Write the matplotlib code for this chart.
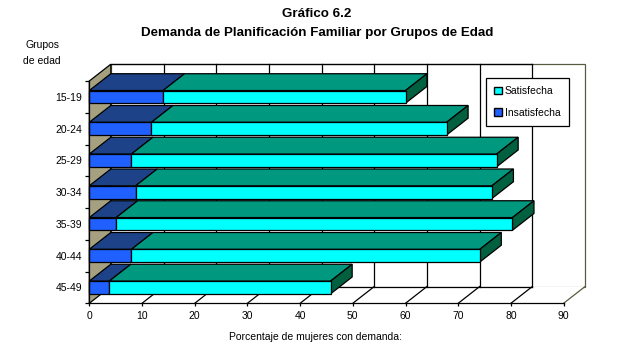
import numpy as np
import matplotlib.pyplot as plt
from matplotlib import font_manager
from matplotlib.patches import Polygon, Patch

# -----------------------------------------------------------------------------
# Data (percent of women with demand)
# -----------------------------------------------------------------------------
grupos = ['15-19', '20-24', '25-29', '30-34', '35-39', '40-44', '45-49']
insatisfecha = np.array([14.0, 11.8, 8.0, 8.8, 5.1, 8.0, 3.8])
satisfecha = np.array([46.0, 56.0, 69.3, 67.6, 75.2, 66.1, 42.0])
x_ticks = [0, 10, 20, 30, 40, 50, 60, 70, 80, 90]

# colours (front face, top face, end face)
sat_colors = ('#00ffff', '#009980', '#006040')
ins_colors = ('#2060ff', '#1d4288', '#10306a')
wall_gray = '#a4a080'
wall_edge = '#5a5a40'

plt.rcParams['font.family'] = ['Liberation Sans', 'DejaVu Sans']

# narrow bold face for the title, if one is installed
installed = {f.name for f in font_manager.fontManager.ttflist}
if 'Liberation Sans Narrow' in installed:
    title_kw = dict(family='Liberation Sans Narrow', fontsize=11)
elif 'DejaVu Sans Condensed' in installed:
    title_kw = dict(family='DejaVu Sans Condensed', fontsize=9.5)
else:
    title_kw = dict(family='Liberation Sans', fontsize=9.6)

W, H = 634, 353
fig = plt.figure(figsize=(W / 100, H / 100), dpi=100)
fig.patch.set_facecolor('white')

# front plane of the 3-D box in pixels
x0, x1, yb, yt = 89.3, 563.6, 303.3, 81.0
ax = fig.add_axes([x0 / W, 1 - yb / H, (x1 - x0) / W, (yb - yt) / H])
ax.patch.set_visible(False)
xmax = x_ticks[-1]
n = len(grupos)
ax.set_xlim(0, xmax)
ax.set_ylim(n - 0.5, -0.5)

# depth offset expressed in data units
DX = 21.5 / ((x1 - x0) / xmax)
DY = 16.8 / ((yb - yt) / n)
top, bot = -0.5, n - 0.5


def poly(pts, fc, ec='black', lw=0.9, z=1):
    ax.add_patch(Polygon(pts, closed=True, facecolor=fc, edgecolor=ec,
                         linewidth=lw, clip_on=False, zorder=z))


# -----------------------------------------------------------------------------
# Walls and floor
# -----------------------------------------------------------------------------
poly([(DX, top - DY), (xmax + DX, top - DY), (xmax + DX, bot - DY),
      (DX, bot - DY)], 'white', ec=wall_edge, z=0.5)
for v in x_ticks[1:-1]:
    ax.plot([v + DX, v + DX], [top - DY, bot - DY], color='black', lw=0.9,
            clip_on=False, zorder=0.6)
ax.plot([DX, xmax + DX - 10], [bot - DY, bot - DY], color='black', lw=0.9,
        clip_on=False, zorder=0.6)
ax.plot([DX, xmax + DX - 10], [top - DY, top - DY], color='black', lw=0.9,
        clip_on=False, zorder=0.6)

poly([(0, top), (DX, top - DY), (DX, bot - DY), (0, bot)], wall_gray, z=0.7)

poly([(0, bot), (xmax, bot), (xmax + DX, bot - DY), (DX, bot - DY)],
     'white', ec='none', z=0.55)
for v in x_ticks[1:]:
    ax.plot([v, v + DX], [bot, bot - DY],
            color=wall_edge if v == xmax else 'black', lw=0.9,
            clip_on=False, zorder=0.6)

# -----------------------------------------------------------------------------
# 3-D stacked bars
# -----------------------------------------------------------------------------
h = 0.4
for i in range(n):
    y1 = i - h / 2
    y2 = i + h / 2
    segs = [(0, insatisfecha[i], ins_colors),
            (insatisfecha[i], insatisfecha[i] + satisfecha[i], sat_colors)]
    for a, b, cols in segs:
        poly([(a, y1), (b, y1), (b + DX, y1 - DY), (a + DX, y1 - DY)],
             cols[1], z=2)
        poly([(a, y1), (b, y1), (b, y2), (a, y2)], cols[0], z=2.1)
    end = insatisfecha[i] + satisfecha[i]
    poly([(end, y1), (end + DX, y1 - DY), (end + DX, y2 - DY), (end, y2)],
         sat_colors[2], z=2)

# -----------------------------------------------------------------------------
# Axes, ticks, labels
# -----------------------------------------------------------------------------
for s in ['top', 'right']:
    ax.spines[s].set_visible(False)
for s in ['left', 'bottom']:
    ax.spines[s].set_linewidth(0.9)
    ax.spines[s].set_zorder(3)

ax.set_xticks(x_ticks)
ax.set_xticklabels([str(v) for v in x_ticks])
ax.tick_params(axis='x', length=2, width=0.9, pad=3.5, labelsize=7.5)
ax.set_yticks(range(n))
ax.set_yticklabels(grupos)
ax.set_yticks(np.arange(-0.5, n), minor=True)
ax.tick_params(axis='y', which='major', length=0, pad=5, labelsize=7.5)
ax.tick_params(axis='y', which='minor', length=3, width=0.9)

fig.text(0.5, 1 - 14 / H, 'Gráfico 6.2', ha='center', va='center',
         fontweight='bold', **title_kw)
fig.text(0.5, 1 - 33 / H, 'Demanda de Planificación Familiar por Grupos de Edad',
         ha='center', va='center', fontweight='bold', **title_kw)
fig.text(42 / W, 1 - 45 / H, 'Grupos', ha='center', va='center', fontsize=7.5)
fig.text(42 / W, 1 - 61 / H, 'de edad', ha='center', va='center', fontsize=7.5)
fig.text(315 / W, 1 - 337 / H, 'Porcentaje de mujeres con demanda:',
         ha='center', va='center', fontsize=7.5)

handles = [Patch(facecolor=sat_colors[0], edgecolor='black', label='Satisfecha'),
           Patch(facecolor=ins_colors[0], edgecolor='black', label='Insatisfecha')]
leg = fig.legend(handles=handles, loc='upper left',
                 bbox_to_anchor=(486 / W, 1 - 78 / H), fontsize=7.5,
                 frameon=True, fancybox=False, framealpha=1,
                 edgecolor='black', handlelength=0.7, handleheight=0.7,
                 handletextpad=0.3, labelspacing=1.1, borderpad=0.8,
                 borderaxespad=0)
leg.get_frame().set_linewidth(0.9)

fig.savefig('out.png', dpi=100)
